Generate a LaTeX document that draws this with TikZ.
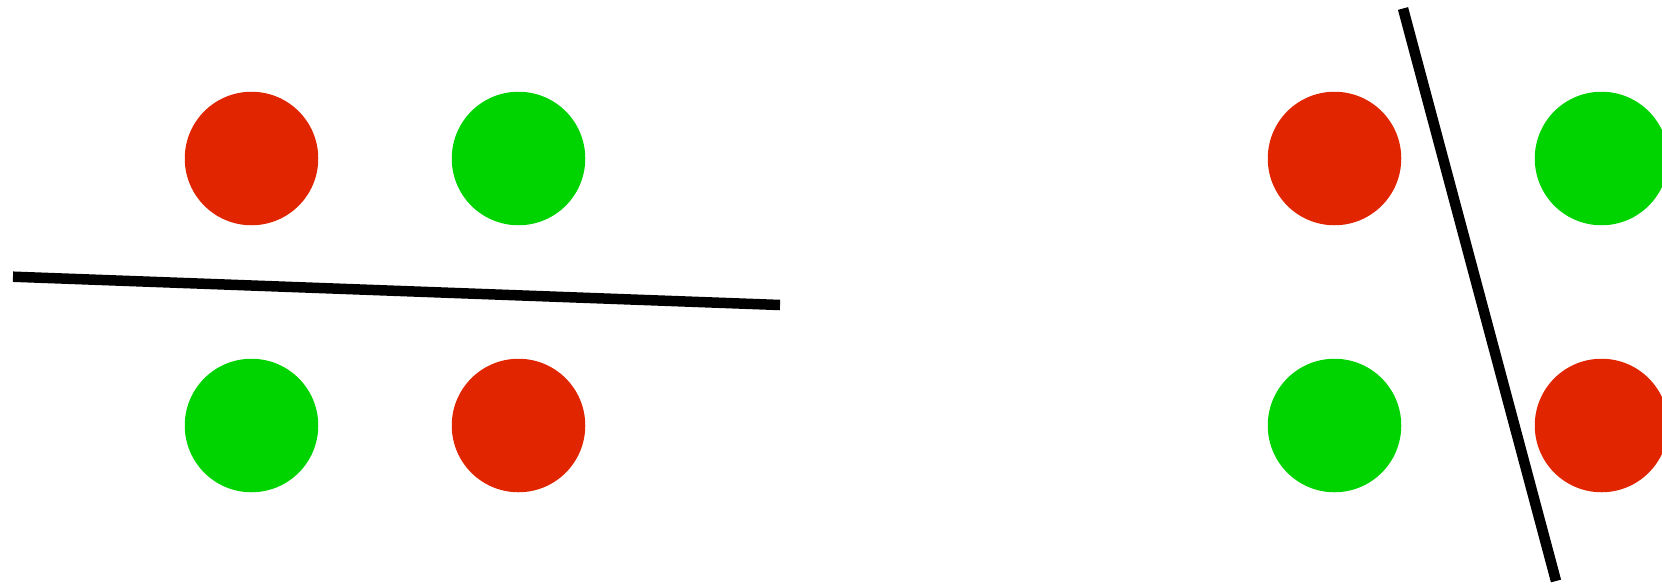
\documentclass[tikz,border=0pt]{standalone}
\definecolor{dotred}{HTML}{E12500}
\definecolor{dotgreen}{HTML}{00D400}
\begin{document}
\begin{tikzpicture}[x=1pt,y=-1pt,
  dot/.style={circle,minimum size=133.5pt,inner sep=0pt,draw=none},
  reddot/.style={dot,fill=dotred},
  greendot/.style={dot,fill=dotgreen},
  sep/.style={draw=black,line width=10.5pt}]
\useasboundingbox (0,0) rectangle (1662,584);
\clip (0,0) rectangle (1662,584);
% left panel
\node[reddot]   (l1) at (251.5,158.5) {};
\node[greendot] (l2) at (518.5,158.5) {};
\node[greendot] (l3) at (251.5,425.5) {};
\node[reddot]   (l4) at (518.5,425.5) {};
\coordinate (la) at (13,276.7);
\coordinate (lb) at (780,305);
\draw[sep] (la) -- (lb);
% right panel
\node[reddot]   (r1) at (1334.5,158.5) {};
\node[greendot] (r2) at (1601.5,158.5) {};
\node[greendot] (r3) at (1334.5,425.5) {};
\node[reddot]   (r4) at (1601.5,425.5) {};
\coordinate (ra) at (1403,8.5);
\coordinate (rb) at (1556,581);
\draw[sep] (ra) -- (rb);
\end{tikzpicture}
\end{document}
